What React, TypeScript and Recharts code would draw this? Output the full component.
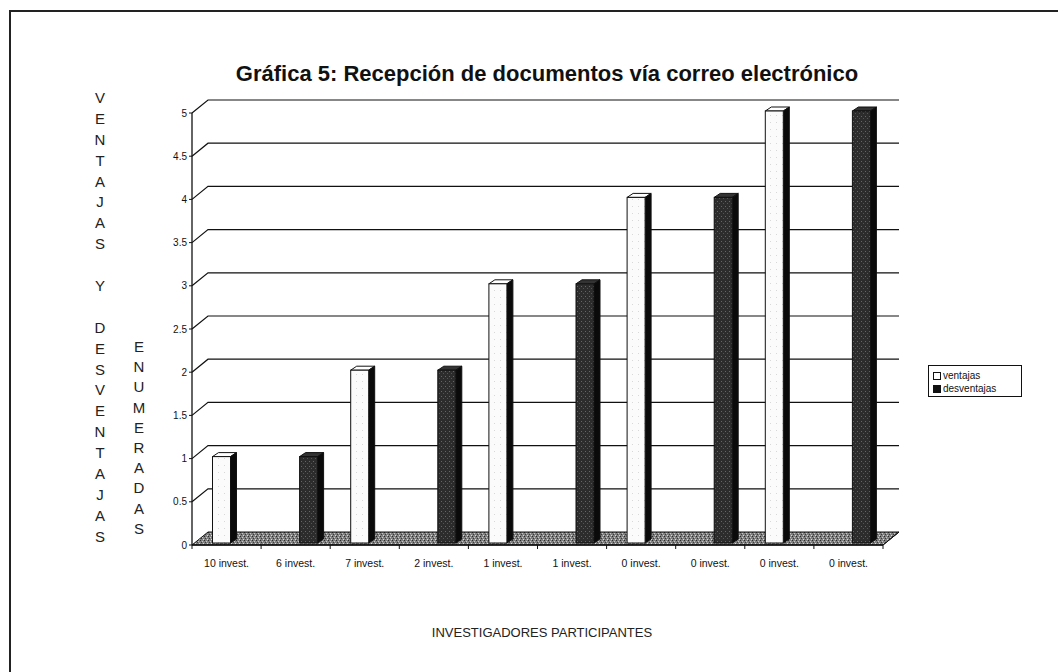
import React from 'react';
import { BarChart, Bar, XAxis, YAxis, CartesianGrid } from 'recharts';

const categories = ['10 invest.', '6 invest.', '7 invest.', '2 invest.', '1 invest.', '1 invest.', '0 invest.', '0 invest.', '0 invest.', '0 invest.'];
const ventajas = [1, 0, 2, 0, 3, 0, 4, 0, 5, 0];
const desventajas = [0, 1, 0, 2, 0, 3, 0, 4, 0, 5];
const yTicks = [0, 0.5, 1, 1.5, 2, 2.5, 3, 3.5, 4, 4.5, 5];

const data = categories.map((c, i) => ({ label: c, ventajas: ventajas[i], desventajas: desventajas[i] }));

const W = 1058;
const H = 672;
const PLOT_LEFT = 192;
const PLOT_RIGHT = 883;
const PLOT_TOP = 113;
const PLOT_BOTTOM = 545;
const BAND = (PLOT_RIGHT - PLOT_LEFT) / categories.length;
// 3D depth of the back wall
const DX = 16;
const DY = -13;

const font = 'Arial, "Liberation Sans", sans-serif';

function GridLine(props: any) {
  const { x1, x2, y1 } = props;
  if (Math.abs(y1 - PLOT_BOTTOM) < 1) {
    // floor
    return (
      <polygon
        points={`${x1},${y1} ${x1 + DX},${y1 + DY} ${x2 + DX},${y1 + DY} ${x2},${y1}`}
        fill="url(#floorTex)"
        stroke="#111"
        strokeWidth={1}
      />
    );
  }
  return (
    <path
      d={`M${x1},${y1} L${x1 + DX},${y1 + DY} L${x2 + DX},${y1 + DY}`}
      fill="none"
      stroke="#111"
      strokeWidth={1.2}
    />
  );
}

function Bar3D(props: any) {
  const { x, y, width, height, dark } = props;
  if (!height || height <= 0) return null;
  const bx = x + 3.5;
  const by = y - 2;
  const d = 6;
  const dy = -4;
  return (
    <g>
      <polygon
        points={`${bx},${by} ${bx + d},${by + dy} ${bx + width + d},${by + dy} ${bx + width},${by}`}
        fill={dark ? '#333' : '#fff'}
        stroke="#111"
        strokeWidth={1}
      />
      <polygon
        points={`${bx + width},${by} ${bx + width + d},${by + dy} ${bx + width + d},${by + height + dy} ${bx + width},${by + height}`}
        fill="#0a0a0a"
        stroke="#111"
        strokeWidth={1}
      />
      <rect
        x={bx}
        y={by}
        width={width}
        height={height}
        fill={dark ? 'url(#darkTex)' : 'url(#lightTex)'}
        stroke="#111"
        strokeWidth={1}
      />
    </g>
  );
}

function XTick(props: any) {
  const { x, y, payload, index } = props;
  const left = x - BAND / 2;
  return (
    <g>
      <line x1={left} y1={PLOT_BOTTOM} x2={left} y2={PLOT_BOTTOM + 4} stroke="#111" />
      {index === categories.length - 1 && (
        <>
          <line x1={x + BAND / 2} y1={PLOT_BOTTOM} x2={x + BAND / 2} y2={PLOT_BOTTOM + 4} stroke="#111" />
          <line x1={x + BAND / 2} y1={PLOT_BOTTOM} x2={x + BAND / 2 + DX} y2={PLOT_BOTTOM + DY} stroke="#111" />
        </>
      )}
      <text x={x} y={y + 14} textAnchor="middle" fontSize={10.5} fontFamily={font} fill="#111">
        {payload.value}
      </text>
    </g>
  );
}

const letterCol = (word: string, left: number, top: number, lh: number) => (
  <div
    style={{
      position: 'absolute',
      left: left - 12,
      top,
      width: 24,
      textAlign: 'center',
      fontFamily: font,
      fontSize: 15,
      lineHeight: `${lh}px`,
      color: '#222',
    }}
  >
    {word.split('').map((ch, i) => (
      <div key={i} style={{ height: lh }}>
        {ch === ' ' ? '\u00a0' : ch}
      </div>
    ))}
  </div>
);

export default function App() {
  return (
    <div style={{ position: 'fixed', left: 0, top: 0, width: W, height: H, background: '#fff', overflow: 'hidden' }}>
      <svg width={0} height={0} style={{ position: 'absolute' }}>
        <defs>
          <pattern id="floorTex" width={4} height={4} patternUnits="userSpaceOnUse">
            <rect width={4} height={4} fill="#808080" />
            <rect x={0} y={0} width={1} height={1} fill="#2a2a2a" />
            <rect x={2} y={1} width={1} height={1} fill="#c8c8c8" />
            <rect x={1} y={2} width={1} height={1} fill="#3a3a3a" />
            <rect x={3} y={3} width={1} height={1} fill="#d8d8d8" />
          </pattern>
          <pattern id="darkTex" width={4} height={5} patternUnits="userSpaceOnUse">
            <rect width={4} height={5} fill="#2c2c2c" />
            <rect x={1} y={1} width={1} height={1} fill="#666" />
            <rect x={3} y={3} width={1} height={1} fill="#555" />
          </pattern>
          <pattern id="lightTex" width={6} height={7} patternUnits="userSpaceOnUse">
            <rect width={6} height={7} fill="#fbfbfb" />
            <rect x={2} y={3} width={1} height={1} fill="#d8d8d8" />
          </pattern>
        </defs>
      </svg>

      <div
        style={{
          position: 'absolute',
          left: 9,
          top: 10,
          width: W + 10,
          height: H,
          border: '2px solid #222',
          boxSizing: 'border-box',
        }}
      />

      <div
        style={{
          position: 'absolute',
          left: 0,
          width: 1094,
          top: 61,
          textAlign: 'center',
          fontFamily: font,
          fontWeight: 'bold',
          fontSize: 22,
          color: '#111',
        }}
      >
        Gráfica 5: Recepción de documentos vía correo electrónico
      </div>

      {letterCol('VENTAJAS Y DESVENTAJAS', 100, 88, 20.9)}
      {letterCol('ENUMERADAS', 139, 337, 20.2)}

      <div style={{ position: 'absolute', left: 0, top: 0 }}>
        <BarChart
          width={W}
          height={H}
          data={data}
          margin={{ top: PLOT_TOP, right: W - PLOT_RIGHT, left: PLOT_LEFT - 40, bottom: H - PLOT_BOTTOM - 30 }}
          barSize={18}
          barGap={0}
        >
          <CartesianGrid vertical={false} horizontal={(p: any) => <GridLine {...p} />} />
          <YAxis
            type="number"
            domain={[0, 5]}
            ticks={yTicks}
            width={40}
            interval={0}
            axisLine={{ stroke: '#111', strokeWidth: 1.3 }}
            tickLine={{ stroke: '#111' }}
            tickSize={3}
            tick={{ fontSize: 10, fontFamily: font, fill: '#111' }}
            tickFormatter={(v: number) => String(v)}
          />
          <XAxis
            dataKey="label"
            height={30}
            interval={0}
            axisLine={{ stroke: '#111', strokeWidth: 1.3 }}
            tickLine={false}
            tick={(p: any) => <XTick {...p} />}
          />
          <Bar dataKey="ventajas" isAnimationActive={false} shape={(p: any) => <Bar3D {...p} dark={false} />} />
          <Bar dataKey="desventajas" isAnimationActive={false} shape={(p: any) => <Bar3D {...p} dark />} />
        </BarChart>
      </div>

      <div
        style={{
          position: 'absolute',
          left: 928,
          top: 365,
          width: 94,
          height: 32,
          border: '1px solid #111',
          boxSizing: 'border-box',
          fontFamily: font,
          fontSize: 10,
          color: '#111',
          padding: '3px 0 0 4px',
          lineHeight: '13px',
        }}
      >
        <div style={{ display: 'flex', alignItems: 'center', gap: 2 }}>
          <span style={{ width: 6, height: 6, border: '1px solid #111', background: '#fff', display: 'inline-block' }} />
          ventajas
        </div>
        <div style={{ display: 'flex', alignItems: 'center', gap: 2 }}>
          <span style={{ width: 8, height: 8, background: '#111', display: 'inline-block' }} />
          desventajas
        </div>
      </div>

      <div
        style={{
          position: 'absolute',
          left: 342,
          width: 400,
          top: 625,
          textAlign: 'center',
          fontFamily: font,
          fontSize: 13,
          color: '#222',
        }}
      >
        INVESTIGADORES PARTICIPANTES
      </div>
    </div>
  );
}
